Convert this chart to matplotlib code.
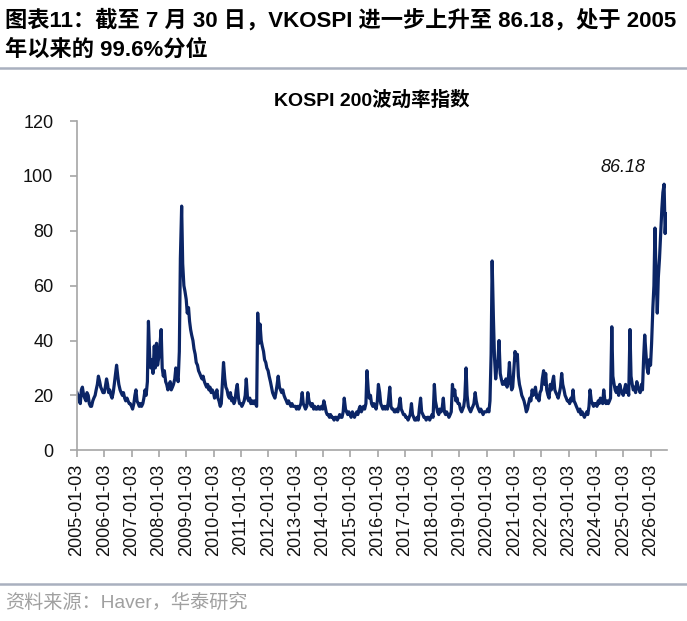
import matplotlib
matplotlib.use('Agg')
import matplotlib.pyplot as plt
import pandas as pd

plt.rcParams['font.family'] = ['Liberation Sans', 'Noto Sans CJK SC']

# VKOSPI at the 1st and 15th of each month
y2005 = [21, 20, 18, 17, 22, 23, 20, 19, 18, 21, 20, 17, 16, 16, 18, 19, 20, 22, 24, 27, 25, 23, 22, 21]
y2006 = [21, 23, 26, 24, 21, 22, 20, 19, 21, 24, 28, 31, 27, 24, 22, 21, 20, 21, 19, 18, 19, 18, 17, 17]
y2007 = [16, 15, 17, 20, 22, 18, 17, 16, 17, 16, 17, 19, 22, 20, 25, 47, 34, 30, 33, 28, 38, 30, 39, 31]
y2008 = [34, 38, 44, 30, 27, 29, 25, 24, 22, 23, 25, 22, 23, 24, 26, 30, 27, 25, 36, 70, 89, 68, 60, 58]
y2009 = [55, 50, 52, 47, 44, 42, 40, 37, 35, 32, 31, 29, 28, 27, 26, 27, 25, 24, 23, 24, 22, 23, 21, 22]
y2010 = [21, 19, 20, 22, 19, 18, 16, 17, 25, 32, 26, 23, 22, 20, 19, 21, 18, 19, 17, 18, 22, 24, 19, 17]
y2011 = [17, 16, 17, 18, 20, 26, 19, 18, 19, 17, 18, 17, 18, 17, 16, 50, 39, 46, 40, 38, 36, 33, 32, 30]
y2012 = [29, 27, 25, 23, 21, 20, 19, 21, 24, 27, 23, 22, 21, 22, 20, 19, 18, 17, 18, 17, 16, 17, 16, 16]
y2013 = [16, 15, 16, 15, 16, 17, 21, 17, 16, 15, 16, 21, 18, 17, 16, 17, 15, 16, 15, 15, 16, 15, 15, 16]
y2014 = [15, 18, 16, 14, 13, 13, 12, 13, 12, 12, 11, 12, 12, 11, 12, 13, 12, 12, 14, 19, 15, 14, 13, 14]
y2015 = [13, 12, 14, 13, 12, 13, 14, 13, 15, 16, 14, 15, 16, 15, 17, 29, 22, 19, 20, 17, 16, 17, 16, 15]
y2016 = [18, 24, 21, 17, 16, 15, 16, 15, 16, 15, 19, 23, 16, 15, 15, 14, 14, 15, 14, 16, 19, 15, 14, 13]
y2017 = [13, 12, 12, 11, 12, 13, 17, 13, 12, 11, 11, 12, 11, 15, 19, 14, 13, 12, 12, 11, 12, 12, 11, 12]
y2018 = [13, 12, 24, 18, 16, 14, 13, 15, 14, 15, 19, 14, 13, 14, 13, 12, 13, 14, 24, 20, 22, 18, 19, 17]
y2019 = [17, 15, 14, 15, 16, 19, 30, 20, 16, 15, 14, 15, 16, 17, 21, 18, 16, 15, 14, 15, 14, 13, 14, 14]
y2020 = [14, 15, 14, 18, 35, 69, 48, 34, 26, 30, 33, 40, 28, 26, 24, 25, 24, 26, 23, 25, 32, 25, 22, 23]
y2021 = [30, 36, 33, 35, 27, 24, 22, 20, 19, 18, 16, 14, 15, 17, 19, 18, 22, 20, 21, 23, 19, 20, 18, 21]
y2022 = [22, 26, 29, 24, 28, 22, 20, 19, 24, 22, 25, 27, 22, 21, 20, 19, 21, 23, 28, 24, 22, 20, 19, 18]
y2023 = [18, 17, 19, 18, 22, 18, 17, 16, 15, 14, 15, 13, 14, 13, 12, 13, 14, 13, 16, 22, 18, 17, 16, 17]
y2024 = [17, 16, 18, 17, 19, 18, 17, 22, 18, 17, 18, 17, 18, 19, 45, 27, 24, 22, 21, 23, 20, 24, 22, 21]
y2025 = [20, 22, 24, 21, 23, 20, 44, 27, 24, 22, 23, 21, 25, 23, 22, 21, 24, 22, 34, 42, 35, 30, 28, 33]
y2026 = [31, 39, 52, 60, 81, 65, 50, 63, 70, 78, 88, 94, 97, 79, 86.18]

values = (y2005 + y2006 + y2007 + y2008 + y2009 + y2010 + y2011 + y2012 + y2013 + y2014 + y2015
          + y2016 + y2017 + y2018 + y2019 + y2020 + y2021 + y2022 + y2023 + y2024 + y2025 + y2026)
dates = list(pd.date_range('2005-01-01', '2026-07-15', freq='SMS')) + [pd.Timestamp('2026-07-30')]

tick_labels = [f'{y}-01-03' for y in range(2005, 2027)]
y_ticks = [0, 20, 40, 60, 80, 100, 120]

fig = plt.figure(figsize=(6.87, 6.21), dpi=100)
ax = fig.add_axes([0.112, 0.275, 0.859, 0.530])
ax.plot(dates, values, color='#0b2566', lw=2.3)

ax.set_ylim(0, 120)
ax.set_yticks(y_ticks)
ax.set_xticks(pd.to_datetime(tick_labels))
ax.set_xticklabels(tick_labels, rotation=90)
ax.set_xlim(pd.Timestamp('2005-01-01'), pd.Timestamp('2026-08-10'))

for s in ['top', 'right']:
    ax.spines[s].set_visible(False)
for s in ['left', 'bottom']:
    ax.spines[s].set_color('#a6a6a6')
    ax.spines[s].set_linewidth(1.2)
ax.tick_params(axis='both', colors='#a6a6a6', labelcolor='#111111', labelsize=13,
               length=5, width=1.2)
ax.tick_params(axis='y', pad=12)
ax.tick_params(axis='x', pad=5)

ax.annotate(f'{values[-1]:.2f}', xy=(dates[-1], values[-1]), xytext=(-43, 46),
            textcoords='offset pixels', ha='center', va='center',
            fontsize=13, style='italic', color='#111111')

fig.text(0.541, 1 - 100 / 621, 'KOSPI 200波动率指数', ha='center', va='center',
         fontsize=14, fontweight='bold')

fig.text(5 / 687, 1 - 20 / 621, '图表11：截至 7 月 30 日，VKOSPI 进一步上升至 86.18，处于 2005',
         ha='left', va='center', fontsize=16, fontweight='bold')
fig.text(5 / 687, 1 - 50 / 621, '年以来的 99.6%分位',
         ha='left', va='center', fontsize=16, fontweight='bold')
fig.add_artist(plt.Line2D([0, 1], [1 - 68 / 621] * 2, color='#a9b0bf', lw=1.8))

fig.add_artist(plt.Line2D([0, 1], [1 - 584 / 621] * 2, color='#a9b0bf', lw=1.8))
fig.text(5 / 687, 1 - 603 / 621, '资料来源：Haver，华泰研究', ha='left', va='center',
         fontsize=13.8, color='#a0a0a0')

fig.savefig('out.png', dpi=100)
